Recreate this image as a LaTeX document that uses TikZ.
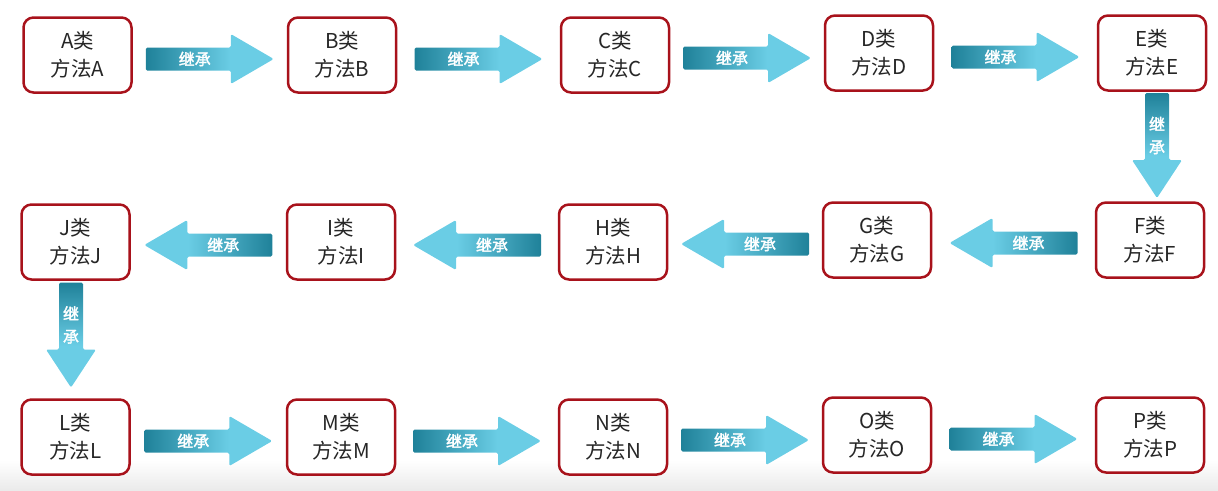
\documentclass[tikz,border=0pt]{standalone}
\usepackage{fontspec}
\newfontfamily\cjk{Noto Sans CJK SC}
\newfontfamily\cjkb{Noto Sans CJK SC}[FakeBold=2]
\usetikzlibrary{calc}
\definecolor{adark}{HTML}{1F8199}
\definecolor{alight}{HTML}{6ACDE5}
\definecolor{bred}{HTML}{A8121B}
\pgfdeclarehorizontalshading{rsh}{100bp}{color(0bp)=(adark); color(25bp)=(adark); color(58bp)=(alight); color(100bp)=(alight)}
\pgfdeclarehorizontalshading{lsh}{100bp}{color(0bp)=(alight); color(42bp)=(alight); color(75bp)=(adark); color(100bp)=(adark)}
\pgfdeclareverticalshading{dsh}{100bp}{color(0bp)=(alight); color(45bp)=(alight); color(75bp)=(adark); color(100bp)=(adark)}
\tikzset{
  box/.style={draw=bred, line width=2.5pt, rounded corners=10pt, fill=white,
    minimum width=108pt, minimum height=75pt, align=center, inner sep=2pt,
    font=\cjk\fontsize{20.5}{28}\selectfont, text=black!85},
  lbl/.style={text=white, font=\cjkb\fontsize{16}{18}\selectfont, inner sep=0pt, align=center},
  vlbl/.style={text=white, font=\cjkb\fontsize{16}{23}\selectfont, inner sep=0pt, align=center}
}
% right-pointing block arrow between two nodes
\newcommand\rarr[2]{%
  \shade[shading=rsh, rounded corners=1.5pt] let \p0=($(#1.east)!.5!(#2.west)+(0,-4)$) in
    (\x0-64pt,\y0+11.5pt) -- (\x0+21pt,\y0+11.5pt) -- (\x0+21pt,\y0+25pt) -- (\x0+64pt,\y0)
    -- (\x0+21pt,\y0-25pt) -- (\x0+21pt,\y0-11.5pt) -- (\x0-64pt,\y0-11.5pt) -- cycle;
  \node[lbl] at ($(#1.east)!.5!(#2.west)+(-15,-4)$) {继承};
}
% left-pointing block arrow between two nodes
\newcommand\larr[2]{%
  \shade[shading=lsh, rounded corners=1.5pt] let \p0=($(#1.west)!.5!(#2.east)+(0,-3)$) in
    (\x0+64pt,\y0+11.5pt) -- (\x0-21pt,\y0+11.5pt) -- (\x0-21pt,\y0+25pt) -- (\x0-64pt,\y0)
    -- (\x0-21pt,\y0-25pt) -- (\x0-21pt,\y0-11.5pt) -- (\x0+64pt,\y0-11.5pt) -- cycle;
  \node[lbl] at ($(#1.west)!.5!(#2.east)+(15,-3)$) {继承};
}
% downward block arrow between two nodes, #3/#4 = shift
\newcommand\darr[4]{%
  \shade[shading=dsh, rounded corners=1.5pt] let \p0=($(#1.south)!.5!(#2.north)+(#3,#4)$) in
    (\x0-12pt,\y0+52.5pt) -- (\x0+12pt,\y0+52.5pt) -- (\x0+12pt,\y0-14.5pt) -- (\x0+25pt,\y0-14.5pt)
    -- (\x0,\y0-52.5pt) -- (\x0-25pt,\y0-14.5pt) -- (\x0-12pt,\y0-14.5pt) -- cycle;
  \node[vlbl] at ($(#1.south)!.5!(#2.north)+(#3,#4)+(0,10)$) {继\\承};
}
\begin{document}
\begin{tikzpicture}[x=1pt,y=1pt]
\useasboundingbox (0,0) rectangle (1218,-490);
\shade[top color=white, bottom color=black!8] (0,-460) rectangle (1218,-490);
% row 1
\node[box] (A) at (77.5,-55) {A类\\方法A};
\node[box] (B) at (342,-55) {B类\\方法B};
\node[box] (C) at (615,-55) {C类\\方法C};
\node[box] (D) at (879,-53) {D类\\方法D};
\node[box] (E) at (1152,-53) {E类\\方法E};
% row 2
\node[box] (J) at (75.5,-242) {J类\\方法J};
\node[box] (I) at (341,-242) {I类\\方法I};
\node[box] (H) at (613,-242) {H类\\方法H};
\node[box] (G) at (877,-240) {G类\\方法G};
\node[box] (F) at (1150,-240) {F类\\方法F};
% row 3
\node[box] (L) at (75.5,-437) {L类\\方法L};
\node[box] (M) at (341,-437) {M类\\方法M};
\node[box] (N) at (613,-437) {N类\\方法N};
\node[box] (O) at (877,-435) {O类\\方法O};
\node[box] (P) at (1150,-435) {P类\\方法P};
% arrows
\rarr{A}{B}
\rarr{B}{C}
\rarr{C}{D}
\rarr{D}{E}
\darr{E}{F}{6}{1}
\larr{F}{G}
\larr{G}{H}
\larr{H}{I}
\larr{I}{J}
\darr{J}{L}{-4.5}{4.5}
\rarr{L}{M}
\rarr{M}{N}
\rarr{N}{O}
\rarr{O}{P}
\end{tikzpicture}
\end{document}
